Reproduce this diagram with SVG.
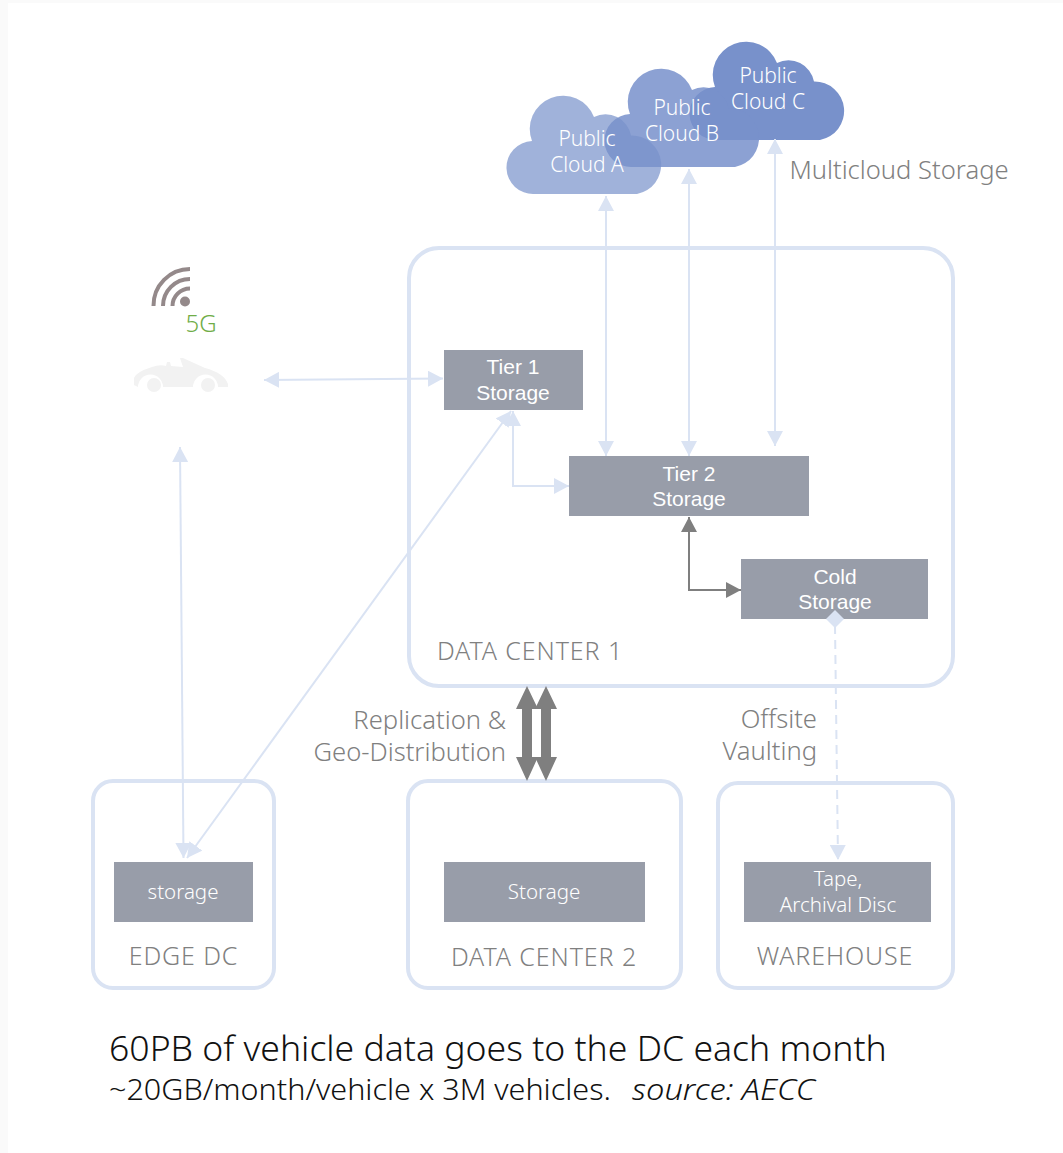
<svg xmlns="http://www.w3.org/2000/svg" width="1063" height="1153" viewBox="0 0 1063 1153">
<style>
text{font-family:"Noto Sans","Open Sans","Liberation Sans",sans-serif;font-weight:300;text-anchor:middle}
.frame{fill:none;stroke:#DAE3F3;stroke-width:4}
.box{fill:#989DA9}
.w{fill:#fff;font-size:20.500px}
.a{fill:#fff;font-size:21px;font-family:"Liberation Sans",sans-serif;font-weight:400}
.g{fill:#808080;font-size:25.600px}
.c{fill:#808080;font-size:25px;letter-spacing:.9px}
.cl{fill:#fff;font-size:21px}
.ln{fill:none;stroke:#DAE3F3;stroke-width:2}
.cloud{fill:#7891CB}
.e{text-anchor:end}
</style>
<defs>
<marker id="ah" markerUnits="userSpaceOnUse" markerWidth="16" markerHeight="16" refX="15" refY="8" orient="auto-start-reverse"><path d="M0 0L15 8L0 16Z" fill="#DAE3F3"/></marker>
<marker id="ad" markerUnits="userSpaceOnUse" markerWidth="16" markerHeight="16" refX="15" refY="8" orient="auto-start-reverse"><path d="M0 0L15 8L0 16Z" fill="#7F7F7F"/></marker>
<path id="cloudshape" d="M28 100A26.500 26.500 0 0 1 26 47A33 33 0 0 1 88 23A26 26 0 0 1 125 41.500A29.500 29.500 0 0 1 131 100Z"/>
</defs>
<rect width="1063" height="1153" fill="#fff"/>
<path d="M0 0H1063V3H8V1153H0Z" fill="#FAFAFA"/>

<g id="cloud-c"><use href="#cloudshape" class="cloud" transform="translate(689,40)"/><text class="cl" x="768" y="83">Public</text><text class="cl" x="768" y="109">Cloud C</text></g>
<g id="cloud-b"><use href="#cloudshape" class="cloud" opacity=".85" transform="translate(604,67)"/><text class="cl" x="682" y="115">Public</text><text class="cl" x="682" y="141">Cloud B</text></g>
<g id="cloud-a"><use href="#cloudshape" class="cloud" opacity=".7" transform="translate(506,94)"/><text class="cl" x="587" y="146">Public</text><text class="cl" x="587" y="172">Cloud A</text></g>
<text id="multicloud" class="g" x="899" y="179">Multicloud Storage</text>

<g id="data-center-1"><rect class="frame" x="409" y="248" width="544" height="438" rx="30"/><text class="c" x="530" y="660">DATA CENTER 1</text></g>
<g id="edge-dc"><rect class="frame" x="93" y="781" width="181" height="207" rx="20"/><text class="c" x="183.500" y="965">EDGE DC</text></g>
<g id="data-center-2"><rect class="frame" x="408" y="781" width="273" height="207" rx="20"/><text class="c" x="544" y="966">DATA CENTER 2</text></g>
<g id="warehouse"><rect class="frame" x="718" y="783" width="235" height="205" rx="20"/><text class="c" x="835" y="965">WAREHOUSE</text></g>

<g id="connectors">
<path class="ln" d="M264 380L443 378.500" marker-start="url(#ah)" marker-end="url(#ah)"/>
<path class="ln" d="M180 447L183.500 858" marker-start="url(#ah)" marker-end="url(#ah)"/>
<path class="ln" d="M511 411L187 858" marker-start="url(#ah)" marker-end="url(#ah)"/>
<path class="ln" d="M513 411V486H569" marker-start="url(#ah)" marker-end="url(#ah)"/>
<path class="ln" d="M606 196V456" marker-start="url(#ah)" marker-end="url(#ah)"/>
<path class="ln" d="M689 169V456" marker-start="url(#ah)" marker-end="url(#ah)"/>
<path class="ln" d="M775 139V446" marker-start="url(#ah)" marker-end="url(#ah)"/>
<path d="M689 517V590H741" fill="none" stroke="#7F7F7F" stroke-width="2" marker-start="url(#ad)" marker-end="url(#ad)"/>
<path class="ln" d="M835 625L838 860" stroke-dasharray="9 6" marker-end="url(#ah)"/>
<path fill="#7F7F7F" d="M527 686L538 709H532V757H538L527 781L516 757H522V709H516Z"/>
<path fill="#7F7F7F" d="M546 686L557 709H551V757H557L546 781L535 757H541V709H535Z"/>
</g>

<g id="tier-1"><rect class="box" x="444" y="350" width="139" height="60"/><text class="a" x="513" y="374">Tier 1</text><text class="a" x="513" y="400">Storage</text></g>
<g id="tier-2"><rect class="box" x="569" y="456" width="240" height="60"/><text class="a" x="689" y="481">Tier 2</text><text class="a" x="689" y="506">Storage</text></g>
<g id="cold"><rect class="box" x="741" y="559" width="187" height="60"/><text class="a" x="835" y="584">Cold</text><text class="a" x="835" y="609">Storage</text></g>
<g id="edge-storage"><rect class="box" x="114" y="862" width="139" height="60"/><text class="w" x="183" y="899">storage</text></g>
<g id="dc2-storage"><rect class="box" x="444" y="862" width="201" height="60"/><text class="w" x="544" y="899">Storage</text></g>
<g id="tape"><rect class="box" x="744" y="862" width="187" height="60"/><text class="w" x="838" y="886">Tape,</text><text class="w" x="838" y="912">Archival Disc</text></g>
<path id="diamond" d="M835 610L844 619L835 628L826 619Z" fill="#DAE3F3"/>

<g id="labels">
<text class="g e" x="506" y="729">Replication &amp;</text>
<text class="g e" x="506" y="761">Geo-Distribution</text>
<text class="g e" x="817" y="728">Offsite</text>
<text class="g e" x="817" y="760">Vaulting</text>
<text x="109" y="1061" style="text-anchor:start;font-size:35.600px;fill:#111">60PB of vehicle data goes to the DC each month</text>
<text x="109" y="1100" textLength="502" lengthAdjust="spacingAndGlyphs" style="text-anchor:start;font-size:29px;fill:#111">~20GB/month/vehicle x 3M vehicles.</text>
<text x="632" y="1100" textLength="183" lengthAdjust="spacingAndGlyphs" style="text-anchor:start;font-size:29px;fill:#111;font-style:italic">source: AECC</text>
</g>

<g id="car-5g">
<g fill="none" stroke="#94898A" stroke-width="4"><path d="M190 269A36.500 36.500 0 0 0 153.500 306"/><path d="M190 279A27 27 0 0 0 163 306"/><path d="M190 288.500A17.500 17.500 0 0 0 172.500 306"/></g>
<circle cx="185" cy="301.500" r="5" fill="#94898A"/>
<text x="201" y="332" style="font-size:24px;fill:#70AD47">5G</text>
<path fill="#F2F2F2" d="M134 385L134 378Q136 372 152 367Q160 364 166 366L167 362H170L171 366L183 367L180 358L183 358L205 368Q224 373 228 384V387H218A12 12 0 0 0 193 387H163A12 12 0 0 0 138 387Z"/>
<circle cx="154" cy="385" r="7" fill="#F2F2F2"/><circle cx="208" cy="385" r="7" fill="#F2F2F2"/>
</g>
</svg>
